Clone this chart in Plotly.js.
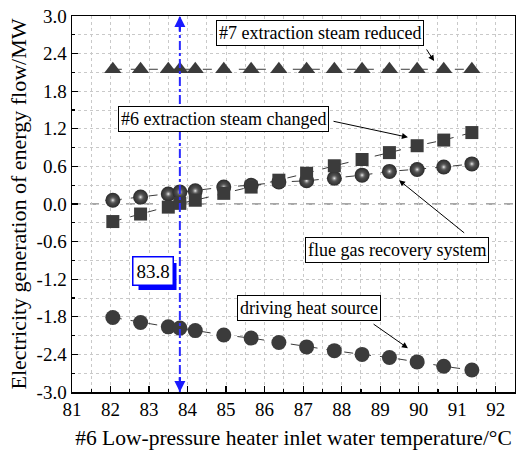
<!DOCTYPE html>
<html>
<head>
<meta charset="utf-8">
<script src="https://cdn.plot.ly/plotly-3.0.1.min.js"></script>
<style>
  html, body { margin: 0; padding: 0; background: #fff; }
  #chart { width: 516px; height: 451px; }
</style>
</head>
<body>
<div id="chart"></div>
<script>
// Inlet water temperature of the #6 low-pressure heater (°C)
const temperature = [82.06, 82.78, 83.5, 83.8, 84.2, 84.94, 85.65, 86.37, 87.09, 87.81, 88.53, 89.24, 89.96, 90.65, 91.38];

// Electricity generation of each energy flow (MW)
const steam7Reduced = [2.15, 2.15, 2.15, 2.15, 2.15, 2.15, 2.15, 2.15, 2.15, 2.15, 2.15, 2.15, 2.15, 2.15, 2.15];
const steam6Changed = [-0.28, -0.16, -0.05, 0.01, 0.06, 0.17, 0.27, 0.38, 0.49, 0.61, 0.71, 0.82, 0.93, 1.02, 1.14];
const flueGasRecovery = [0.06, 0.11, 0.16, 0.19, 0.21, 0.27, 0.30, 0.35, 0.37, 0.41, 0.46, 0.52, 0.55, 0.59, 0.64];
const drivingHeatSource = [-1.81, -1.89, -1.96, -1.98, -2.02, -2.09, -2.14, -2.21, -2.28, -2.34, -2.40, -2.45, -2.52, -2.59, -2.65];

// Marked temperature
const markedTemperature = 83.8;

// Axis ticks
const xTickVals = [81, 82, 83, 84, 85, 86, 87, 88, 89, 90, 91, 92];
const xTickText = ['81', '82', '83', '84', '85', '86', '87', '88', '89', '90', '91', '92'];
const yTickVals = [3.0, 2.4, 1.8, 1.2, 0.6, 0.0, -0.6, -1.2, -1.8, -2.4, -3.0];
const yTickText = ['3.0', '2.4', '1.8', '1.2', '0.6', '0.0', '-0.6', '-1.2', '-1.8', '-2.4', '-3.0'];

const FONT = 'Liberation Serif, Times New Roman, serif';
const DARK = '#3b3b3b';
const GRID = '#c9c9c9';

const lineStyle = { color: DARK, width: 1, dash: 'dash' };

const traces = [
  {
    x: temperature, y: steam7Reduced, type: 'scatter', mode: 'lines+markers',
    line: lineStyle,
    marker: { symbol: 'triangle-up', size: 15, color: DARK },
    cliponaxis: false
  },
  {
    // dark body of the spheres
    x: temperature, y: flueGasRecovery, type: 'scatter', mode: 'lines+markers',
    line: lineStyle,
    marker: { symbol: 'circle', size: 15, color: '#2b2b2b',
              gradient: { type: 'radial', color: '#6a6a6a' } }
  },
  {
    // highlight on the spheres
    x: temperature, y: flueGasRecovery, type: 'scatter', mode: 'markers',
    marker: { symbol: 'circle', size: 8, color: 'rgba(60,60,60,0)',
              gradient: { type: 'radial', color: '#f4f4f4' } }
  },
  {
    x: temperature, y: steam6Changed, type: 'scatter', mode: 'lines+markers',
    line: lineStyle,
    marker: { symbol: 'square', size: 13, color: DARK }
  },
  {
    x: temperature, y: drivingHeatSource, type: 'scatter', mode: 'lines+markers',
    line: lineStyle,
    marker: { symbol: 'circle', size: 15, color: DARK }
  }
];

function textBox(text, x, y) {
  return {
    text: text, x: x, y: y, xref: 'x', yref: 'y', showarrow: false,
    xanchor: 'center', yanchor: 'middle',
    font: { family: FONT, size: 18, color: '#000' },
    bgcolor: '#fff', bordercolor: '#000', borderwidth: 1, borderpad: 2
  };
}

function pointer(x0, y0, x1, y1) {
  return {
    text: '', x: x1, y: y1, ax: x0, ay: y0, xref: 'x', yref: 'y',
    axref: 'x', ayref: 'y', showarrow: true,
    arrowhead: 2, arrowsize: 1.2, arrowwidth: 1, arrowcolor: '#000'
  };
}

const labelX = 83.09;
const labelY = -1.07;

const annotations = [
  textBox('#7 extraction steam reduced', 87.45, 2.73),
  pointer(90.18, 2.49, 90.40, 2.28),
  textBox('#6 extraction steam changed', 84.94, 1.35),
  pointer(87.75, 1.325, 89.72, 1.065),
  textBox('flue gas recovery system', 89.43, -0.74),
  pointer(91.22, -0.48, 89.49, 0.38),
  textBox('driving heat source', 87.16, -1.66),
  pointer(88.79, -1.90, 89.72, -2.30),
  // value label of the marked line
  { text: markedTemperature.toFixed(1), x: labelX, y: labelY, xref: 'x', yref: 'y', showarrow: false,
    xanchor: 'center', yanchor: 'middle', font: { family: FONT, size: 19, color: '#000' },
    bgcolor: '#fff', borderwidth: 1.5, borderpad: 3, bordercolor: '#0000ff' },
  // arrowheads at both ends of the marked line
  { text: '', x: markedTemperature, y: 3.0, ax: markedTemperature, ay: 2.74, xref: 'x', yref: 'y',
    axref: 'x', ayref: 'y', showarrow: true, arrowhead: 2, arrowsize: 1.0, arrowwidth: 2.2, arrowcolor: '#1a1aff' },
  { text: '', x: markedTemperature, y: -3.0, ax: markedTemperature, ay: -2.74, xref: 'x', yref: 'y',
    axref: 'x', ayref: 'y', showarrow: true, arrowhead: 2, arrowsize: 1.0, arrowwidth: 2.2, arrowcolor: '#1a1aff' }
];

const shapes = [
  { type: 'line', xref: 'paper', yref: 'y', x0: 0, x1: 1, y0: 0, y1: 0,
    line: { color: '#8a8a8a', width: 1.5, dash: 'dash' }, layer: 'below' },
  { type: 'line', xref: 'x', yref: 'y', x0: markedTemperature, x1: markedTemperature, y0: -3, y1: 3,
    line: { color: '#2a2aff', width: 2, dash: 'dashdot' } },
  // drop shadow behind the value label
  { type: 'rect', xref: 'x', yref: 'y', xsizemode: 'pixel', ysizemode: 'pixel',
    xanchor: labelX, yanchor: labelY, x0: -14, x1: 24, y0: -19, y1: 8,
    fillcolor: '#0000ff', line: { width: 0 } }
];

const axisCommon = {
  showline: true, linecolor: '#000', linewidth: 1.5, mirror: true,
  ticks: 'inside', ticklen: 6, tickwidth: 1.2, tickcolor: '#000',
  showgrid: true, gridcolor: GRID, gridwidth: 1, griddash: 'dot',
  zeroline: false,
  tickfont: { family: FONT, size: 19, color: '#000' }
};

const layout = {
  width: 516, height: 451,
  margin: { l: 72, r: 1, t: 16, b: 59 },
  paper_bgcolor: '#fff', plot_bgcolor: '#fff',
  showlegend: false,
  font: { family: FONT, color: '#000' },
  xaxis: Object.assign({}, axisCommon, {
    range: [81, 92.5], tickmode: 'array', tickvals: xTickVals, ticktext: xTickText,
    minor: { dtick: 0.5, tick0: 81, ticks: 'inside', ticklen: 3, tickcolor: '#000',
             showgrid: true, gridcolor: GRID, griddash: 'dot' },
    title: { text: '#6 Low-pressure heater inlet water temperature/°C',
             font: { family: FONT, size: 21.5, color: '#000' }, standoff: 10 }
  }),
  yaxis: Object.assign({}, axisCommon, {
    range: [-3, 3], tickmode: 'array', tickvals: yTickVals, ticktext: yTickText,
    minor: { dtick: 0.3, tick0: 0, ticks: 'inside', ticklen: 3, tickcolor: '#000',
             showgrid: true, gridcolor: GRID, griddash: 'dot' },
    title: { text: 'Electricity generation of energy flow/MW',
             font: { family: FONT, size: 22, color: '#000' }, standoff: 4 }
  }),
  annotations: annotations,
  shapes: shapes
};

Plotly.newPlot('chart', traces, layout, { staticPlot: true, displayModeBar: false });
</script>
</body>
</html>
